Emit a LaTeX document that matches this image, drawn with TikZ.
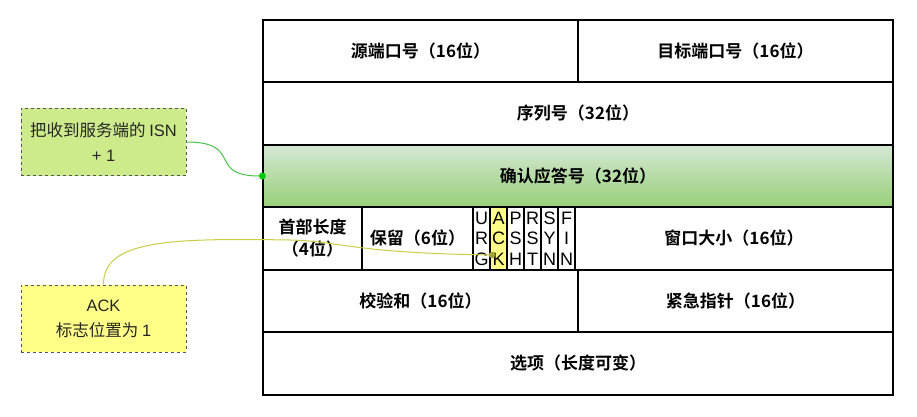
\documentclass[tikz,border=0pt]{standalone}
\usepackage{fontspec}
\newfontfamily\cjkb{Noto Sans CJK SC Bold}
\newfontfamily\cjk{Noto Sans CJK SC}
\newfontfamily\flagfont{Liberation Sans}
\definecolor{lgreen}{HTML}{CDEB8B}
\definecolor{lyellow}{HTML}{FFFF88}
\definecolor{gtop}{HTML}{D5E8D4}
\definecolor{gbot}{HTML}{97D077}
\definecolor{gline}{HTML}{4CC24C}
\definecolor{gdot}{HTML}{00CC00}
\definecolor{yline}{HTML}{CCCC44}
\definecolor{bord}{HTML}{555555}
\begin{document}
\begin{tikzpicture}[x=1pt,y=-1pt,
  cell/.style={draw=black, line width=1.2pt, inner sep=0pt, font=\cjkb\fontsize{17}{20}\selectfont, align=center},
  flagcell/.style={cell, minimum width=17pt, minimum height=63pt, font=\flagfont\fontsize{18}{20.5}\selectfont},
  note/.style={draw=bord, dashed, line width=0.9pt, minimum width=165pt, minimum height=67pt, align=center, font=\cjk\fontsize{16.5}{25}\selectfont, text=black!85}
]
\useasboundingbox (0,0) rectangle (917,417);
\fill[white] (0,0) rectangle (917,417);
% rows
\node[cell, minimum width=315pt, minimum height=62pt] (src) at (420.5,51) {源端口号（16位）};
\node[cell, minimum width=315pt, minimum height=62pt] (dst) at (735.5,51) {目标端口号（16位）};
\node[cell, minimum width=630pt, minimum height=63pt] (seq) at (578,113.5) {序列号（32位）};
\node[cell, minimum width=630pt, minimum height=62pt, top color=gtop, bottom color=gbot] (ackn) at (578,176) {确认应答号（32位）};
\node[cell, minimum width=99pt, minimum height=63pt, font=\cjkb\fontsize{17}{22}\selectfont] (hlen) at (312.5,238.5) {首部长度\\（4位）};
\node[cell, minimum width=111pt, minimum height=63pt] (rsv) at (417.5,238.5) {保留（6位）};
\node[flagcell] (urg) at (481.5,238.5) {U\\R\\G};
\node[flagcell, fill=lyellow] (ackf) at (498.5,238.5) {A\\C\\K};
\node[flagcell] (psh) at (515.5,238.5) {P\\S\\H};
\node[flagcell] (rst) at (532.5,238.5) {R\\S\\T};
\node[flagcell] (syn) at (549.5,238.5) {S\\Y\\N};
\node[flagcell] (fin) at (566.5,238.5) {F\\I\\N};
\node[cell, minimum width=318pt, minimum height=63pt] (win) at (734,238.5) {窗口大小（16位）};
\node[cell, minimum width=315pt, minimum height=62pt] (cks) at (420.5,301) {校验和（16位）};
\node[cell, minimum width=315pt, minimum height=62pt] (urp) at (735.5,301) {紧急指针（16位）};
\node[cell, minimum width=630pt, minimum height=63pt] (opt) at (578,363.5) {选项（长度可变）};
% notes
\node[note, fill=lgreen] (n1) at (103.5,142) {把收到服务端的 {\flagfont ISN}\\{\flagfont + 1}};
\node[note, fill=lyellow] (n2) at (103.5,318.5) {{\flagfont ACK}\\标志位置为 {\flagfont 1}};
% connectors
\coordinate (ackdot) at (492,255);
\draw[gline, line width=1pt] (n1.east) .. controls (245,142) and (205,177) .. (ackn.west);
\fill[gdot] (ackn.west) circle (3.5pt);
\draw[yline, line width=1pt] (n2.north) .. controls (103,240) and (170,238) .. (290,240)
  .. controls (340,241) and (350,253) .. (ackdot);
\fill[yline!80!black] (ackdot) circle (3.2pt);
\end{tikzpicture}
\end{document}
